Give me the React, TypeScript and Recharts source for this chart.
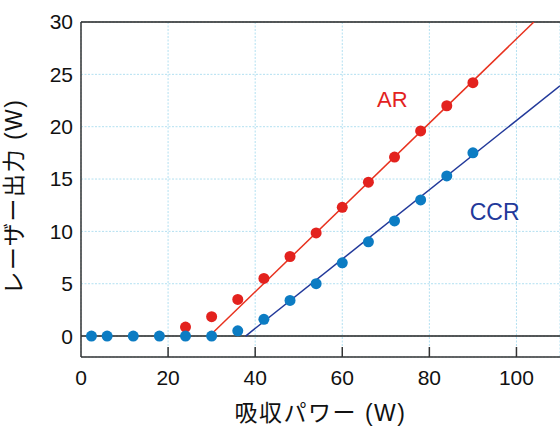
import {
  ComposedChart,
  Scatter,
  XAxis,
  YAxis,
  CartesianGrid,
  ReferenceLine,
  ReferenceDot,
  Label,
} from 'recharts'

// measured points
const ccrX = [2.4, 6, 12, 18, 24, 30, 36, 42, 48, 54, 60, 66, 72, 78, 84, 90]
const ccrY = [0, 0, 0, 0, 0, 0, 0.5, 1.6, 3.4, 5.0, 7.0, 9.0, 11.0, 13.0, 15.3, 17.5]
const arX = [24, 30, 36, 42, 48, 54, 60, 66, 72, 78, 84, 90]
const arY = [0.86, 1.85, 3.5, 5.5, 7.6, 9.85, 12.3, 14.7, 17.1, 19.6, 22.0, 24.2]

// linear fits (end points)
const arFitX = [29.5, 104]
const arFitY = [0, 30]
const ccrFitX = [37.8, 110]
const ccrFitY = [0, 23.9]

const xTicks = [0, 20, 40, 60, 80, 100]
const yTicks = [0, 5, 10, 15, 20, 25, 30]

const toPoints = (xs: number[], ys: number[]) => xs.map((x, i) => ({ x, y: ys[i] }))

const FONT = '"Liberation Sans", Arial, "Noto Sans CJK JP", sans-serif'
const RED = '#e3221e'
const RED_LINE = '#e8321f'
const BLUE = '#0c7cc3'
const NAVY = '#22399a'

function XTick(props: any) {
  const { x, y, payload } = props
  return (
    <g>
      {payload.value !== 0 && (
        <line x1={x} x2={x} y1={y} y2={y - 10} stroke="#333" strokeWidth={1.5} />
      )}
      <text x={x} y={y + 28} textAnchor="middle" fontSize={21} fill="#111" fontFamily={FONT}>
        {payload.value}
      </text>
    </g>
  )
}

function dot(color: string) {
  return (props: any) => <circle cx={props.cx} cy={props.cy} r={5.5} fill={color} />
}

export default function App() {
  const ccr = toPoints(ccrX, ccrY)
  const ar = toPoints(arX, arY)
  const arFit = toPoints(arFitX, arFitY)
  const ccrFit = toPoints(ccrFitX, ccrFitY)

  return (
    <div style={{ position: 'absolute', left: 0, top: 0, background: '#fff' }}>
      <ComposedChart
        width={560}
        height={426}
        margin={{ top: 22, right: 0, bottom: 0, left: 0 }}
        style={{ fontFamily: FONT }}
      >
        <CartesianGrid stroke="#b3e0f1" strokeDasharray="2 1.5" />
        <XAxis
          type="number"
          dataKey="x"
          domain={[0, 110]}
          ticks={xTicks}
          height={69}
          tickSize={0}
          tickMargin={0}
          tick={<XTick />}
          axisLine={{ stroke: '#333', strokeWidth: 1.5 }}
          allowDataOverflow
        >
          <Label
            value="吸収パワー (W)"
            position="center"
            dy={21}
            fontSize={23}
            letterSpacing={1.5}
            fill="#111"
            fontFamily={FONT}
          />
        </XAxis>
        <YAxis
          type="number"
          dataKey="y"
          domain={[-2, 30]}
          ticks={yTicks}
          width={81}
          tickSize={0}
          tickMargin={8}
          tickLine={false}
          tick={{ fontSize: 21, fill: '#111', fontFamily: FONT }}
          axisLine={{ stroke: '#333', strokeWidth: 1.5 }}
          allowDataOverflow
        >
          <Label
            value="レーザー出力 (W)"
            angle={-90}
            position="insideLeft"
            dx={9}
            dy={7}
            fontSize={23}
            letterSpacing={1.5}
            fill="#111"
            fontFamily={FONT}
            style={{ textAnchor: 'middle' }}
          />
        </YAxis>
        <ReferenceLine y={0} stroke="#222" strokeWidth={1.5} />
        <ReferenceLine y={30} stroke="#222" strokeWidth={1.5} />
        <Scatter
          data={arFit}
          line={{ stroke: RED_LINE, strokeWidth: 1.5 }}
          shape={() => null}
          isAnimationActive={false}
        />
        <Scatter
          data={ccrFit}
          line={{ stroke: NAVY, strokeWidth: 1.5 }}
          shape={() => null}
          isAnimationActive={false}
        />
        <Scatter data={ar} shape={dot(RED)} isAnimationActive={false} />
        <Scatter data={ccr} shape={dot(BLUE)} isAnimationActive={false} />
        <ReferenceDot x={71.5} y={22.6} r={0} stroke="none">
          <Label value="AR" position="center" fontSize={22} fill={RED} fontFamily={FONT} />
        </ReferenceDot>
        <ReferenceDot x={95} y={11.9} r={0} stroke="none">
          <Label value="CCR" position="center" fontSize={23} fill={NAVY} fontFamily={FONT} />
        </ReferenceDot>
      </ComposedChart>
    </div>
  )
}
